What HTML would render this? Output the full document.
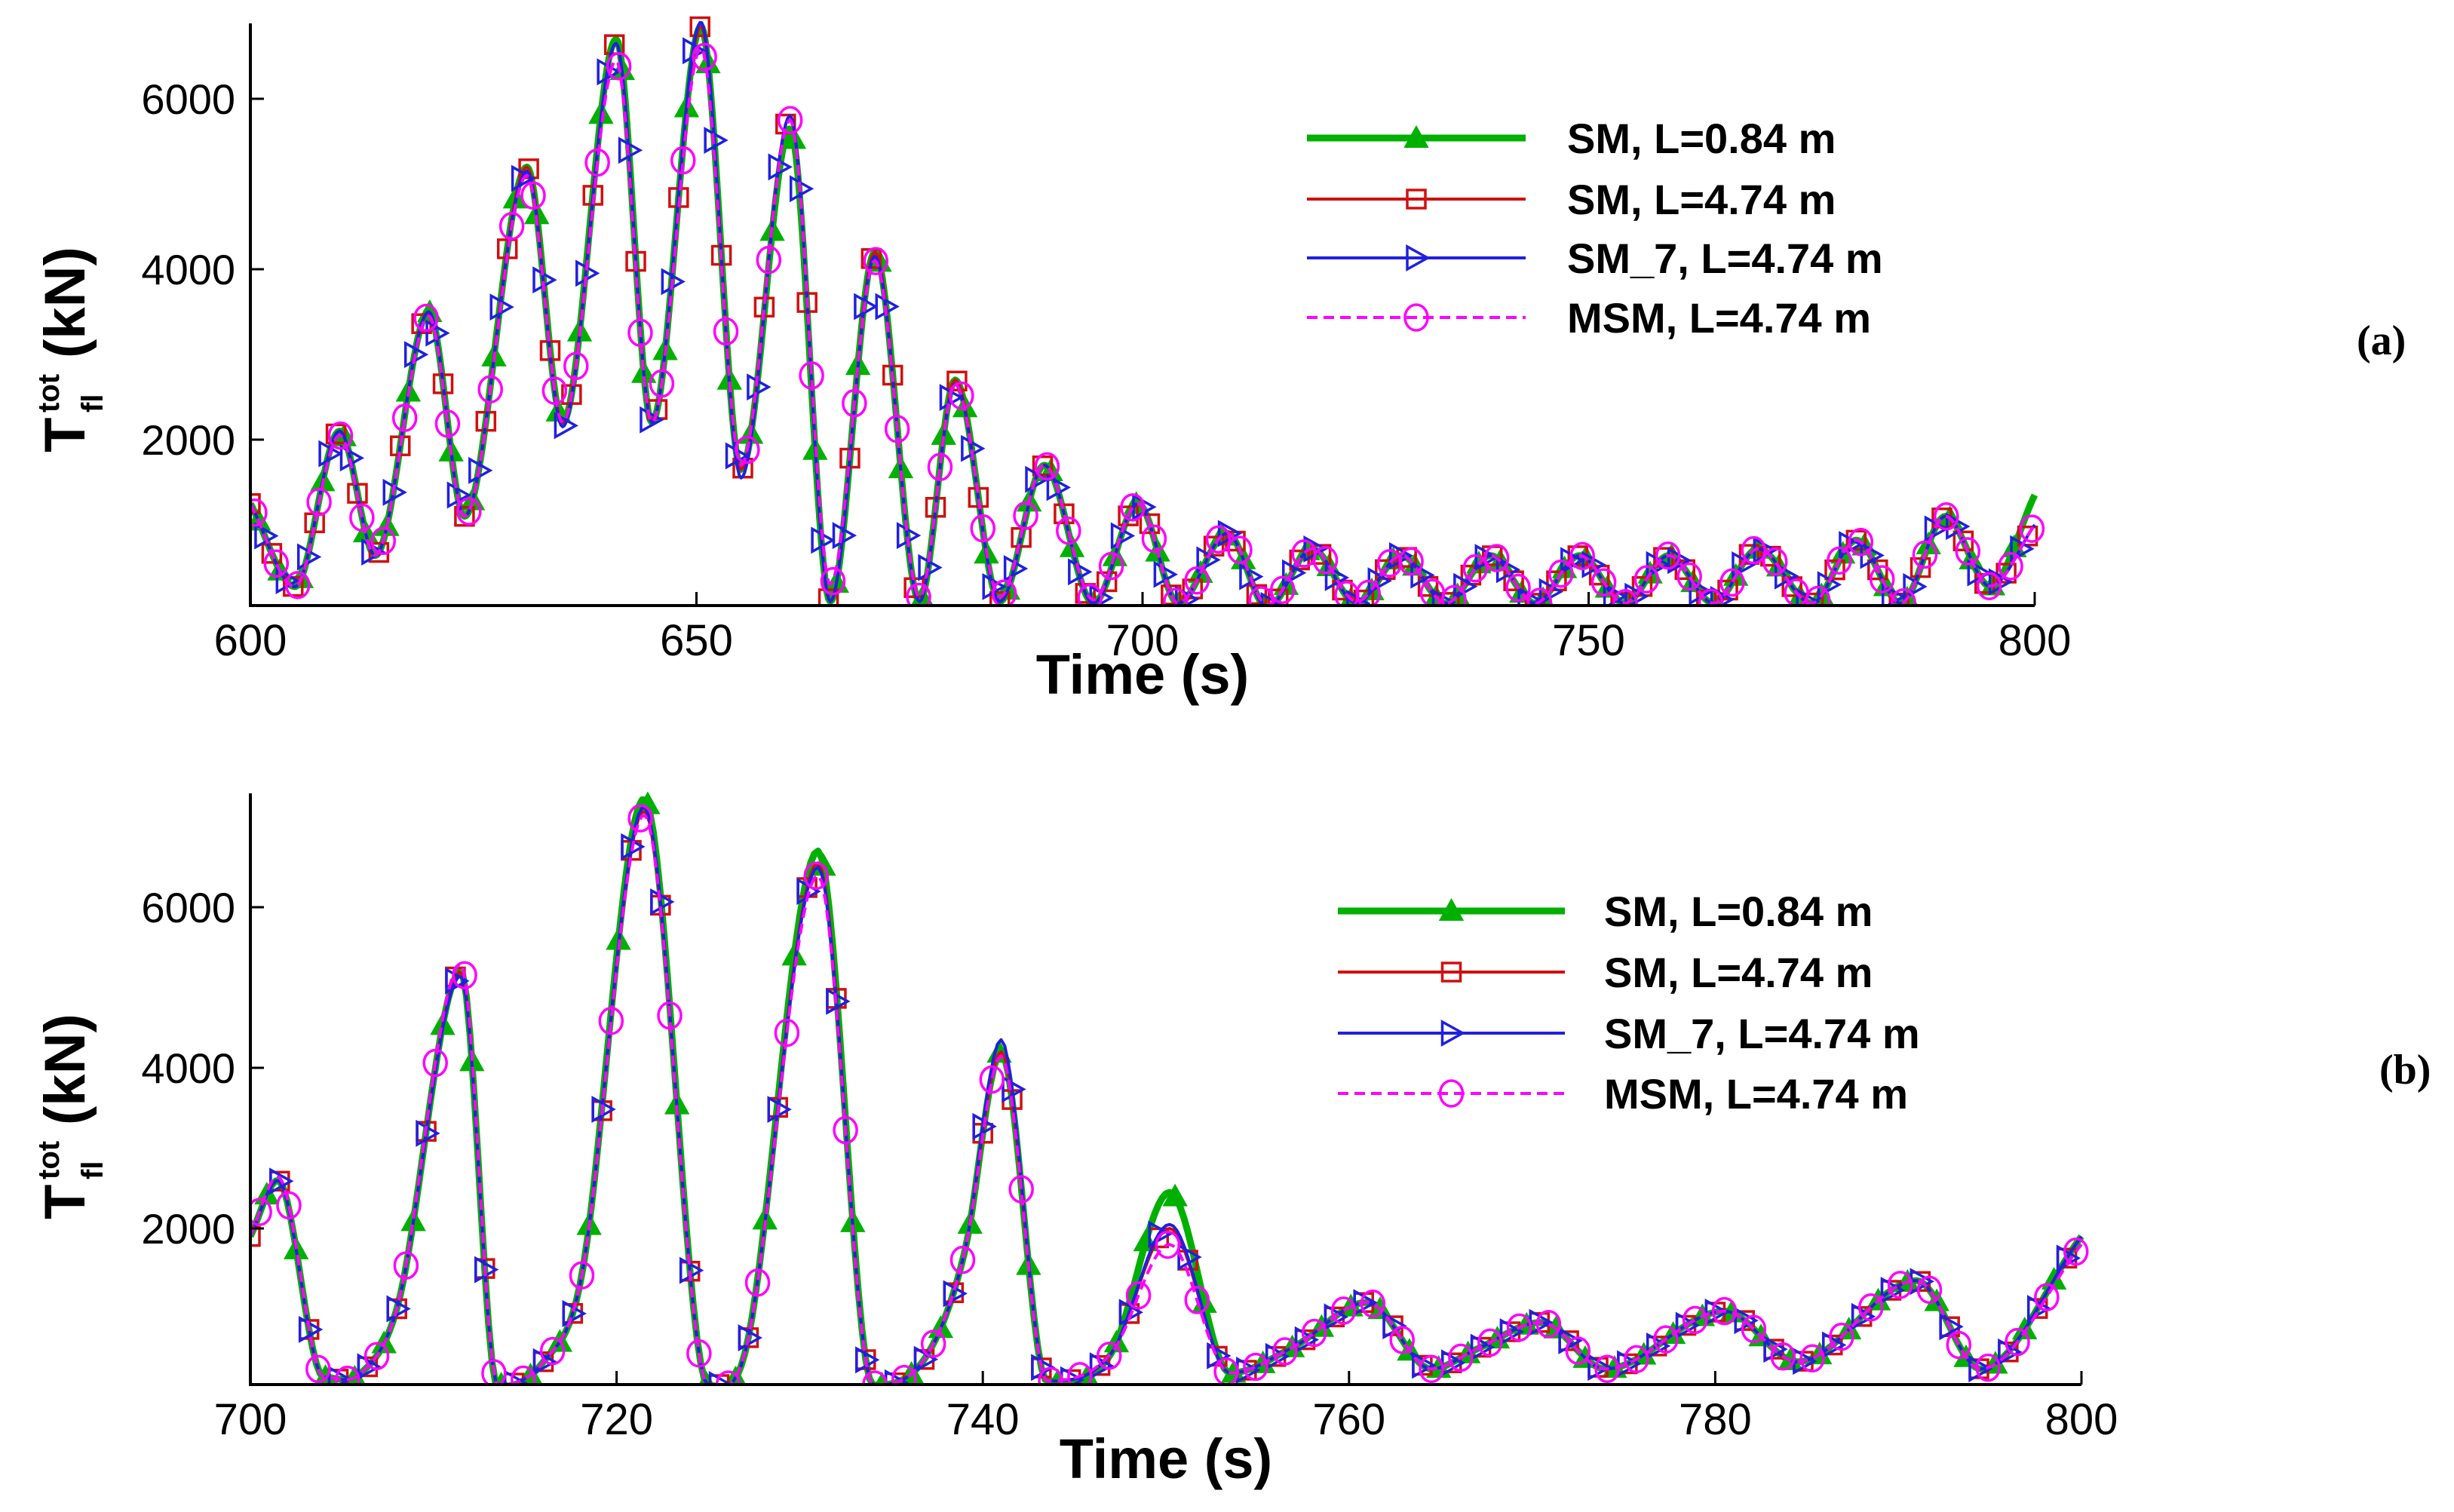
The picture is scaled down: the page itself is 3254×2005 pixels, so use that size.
<!DOCTYPE html>
<html><head><meta charset="utf-8">
<style>
html,body{margin:0;padding:0;background:#fff;}
svg{display:block;font-family:"Liberation Sans",sans-serif;}
</style></head>
<body>
<svg id="fig" width="3254" height="2005" viewBox="0 0 3254 2005"></svg>
<script>
// Panel (a) data
const aTimes=[600,605,610,614,620,624,631,635,641,645,650.5,655,660.5,665,670,675,679,684,689,694.5,699.5,704,709.5,714,719,724,729,734,739,744,749,754,759,764,769,775,780,785,790,795,800];
const aSM084=[1250,275,2100,640,3500,1100,5200,2200,6700,2200,6850,1650,5650,100,4200,100,2700,100,1700,80,1250,80,900,30,720,80,640,80,640,80,640,80,640,80,720,80,820,80,1100,280,1350];
const aSM474=[1250,275,2100,640,3500,1100,5200,2200,6650,2200,6850,1650,5800,100,4200,100,2700,100,1700,80,1250,80,900,30,720,80,640,80,640,80,640,80,640,80,720,80,820,80,1100,280,1000];
const aSM7=[1250,275,2100,640,3500,1100,5150,2150,6650,2200,6900,1550,5800,100,4150,100,2650,100,1700,80,1250,80,900,30,720,80,640,80,640,80,640,80,640,80,720,80,820,80,1100,280,1000];
const aMSM=[1250,275,2050,640,3450,1100,5100,2200,6450,2200,6600,1700,5750,300,4100,150,2650,150,1700,120,1250,80,900,60,720,100,640,80,640,80,640,80,640,80,720,80,820,80,1100,280,1000];
const aXTicks=[600,650,700,750,800];
const aYTicks=[2000,4000,6000];
// Panel (b) data
const bTimes=[700,701.5,704,706,708,711.5,713.5,716,718,721.5,725,727,731,734,737,739,741,743.5,747,750.2,753.5,757,761,764.5,767,770.5,774,780.5,784.5,791,794.5,800];
const bSM084=[1900,2600,150,190,1000,5200,20,340,1300,7350,50,440,6700,50,440,1700,4200,100,440,2450,200,530,1080,250,500,830,250,970,340,1350,250,1900];
const bSM474=[1900,2600,150,190,1000,5200,50,340,1300,7200,50,440,6550,50,440,1700,4200,100,440,2000,200,530,1080,250,500,830,250,970,340,1350,250,1900];
const bSM7=[1900,2600,150,190,1000,5150,50,340,1300,7250,50,440,6500,50,440,1700,4350,100,440,2050,200,530,1080,250,500,830,250,970,340,1350,250,1900];
const bMSM=[1900,2650,150,190,1000,5300,50,340,1300,7150,50,440,6400,50,440,1700,4150,100,440,1800,200,530,1080,250,500,830,250,970,340,1350,250,1800];
const bXTicks=[700,720,740,760,780,800];
const bYTicks=[2000,4000,6000];
const seriesNames=["SM, L=0.84 m","SM, L=4.74 m","SM_7, L=4.74 m","MSM, L=4.74 m"];

const NS="http://www.w3.org/2000/svg";
const svg=document.getElementById('fig');
function mk(tag,attrs,parent){const e=document.createElementNS(NS,tag);for(const k in attrs)e.setAttribute(k,attrs[k]);(parent||svg).appendChild(e);return e;}

function interp(ts,vs,t){
  let i=0;while(i<ts.length-2&&t>ts[i+1])i++;
  const t0=ts[i],t1=ts[i+1],v0=vs[i],v1=vs[i+1];
  const m=(k)=>{if(k===0)return (vs[1]-vs[0])/(ts[1]-ts[0]);if(k===ts.length-1)return (vs[k]-vs[k-1])/(ts[k]-ts[k-1]);
    const d1=(vs[k]-vs[k-1])/(ts[k]-ts[k-1]),d2=(vs[k+1]-vs[k])/(ts[k+1]-ts[k]);if(d1*d2<=0)return 0;return (d1+d2)/2;};
  const h=t1-t0,s=(t-t0)/h,m0=m(i)*h,m1=m(i+1)*h;
  const s2=s*s,s3=s2*s;
  return (2*s3-3*s2+1)*v0+(s3-2*s2+s)*m0+(-2*s3+3*s2)*v1+(s3-s2)*m1;
}

function marker(g,type,x,y,color){
  const r=15;let e;
  if(type==='tri'){e=mk('polygon',{points:`${x},${y-r} ${x-r},${y+r*0.8} ${x+r},${y+r*0.8}`,fill:color,stroke:color,'stroke-width':2},g);}
  else if(type==='sq'){e=mk('rect',{x:x-12,y:y-12,width:24,height:24,fill:'none',stroke:color,'stroke-width':3.5},g);}
  else if(type==='rtri'){e=mk('polygon',{points:`${x-12},${y-r} ${x+r},${y} ${x-12},${y+r}`,fill:'none',stroke:color,'stroke-width':3.5},g);}
  else {e=mk('ellipse',{cx:x,cy:y,rx:15,ry:17,fill:'none',stroke:color,'stroke-width':3.5},g);}
  
  
}

function panel(cfg){
  const {x0,x1,yTop,yBot,tmin,tmax,vmin,vmax,times,series,xTicks,yTicks,legX,legY,legTextX,tag,tagPos,xtitle,ytitleY,step,id}=cfg;
  const X=t=>x0+(t-tmin)/(tmax-tmin)*(x1-x0);
  const Y=v=>yBot-(v-vmin)/(vmax-vmin)*(yBot-yTop);
  const g=mk('g',{});
  
  
  const cid='clip'+id;
  const cp=mk('clipPath',{id:cid},g);mk('rect',{x:x0,y:yTop-20,width:x1-x0+20,height:yBot-yTop+22},cp);
  const styles=[
    {c:'#00b000',w:9,dash:null,m:'tri',off:0.9},
    {c:'#d01010',w:4,dash:null,m:'sq',off:0},
    {c:'#2020e0',w:4,dash:null,m:'rtri',off:1.6},
    {c:'#ff00ff',w:4,dash:'14,8',m:'circ',off:0.5}];
  series.forEach((vs,si)=>{
    const st=styles[si];
    const sg=mk('g',{'clip-path':`url(#${cid})`},g);
    
    
    let d='';
    for(let t=tmin;t<=tmax+1e-9;t+=0.2){const v=Math.max(vmin-50,interp(times,vs,t));d+=(d?'L':'M')+X(t).toFixed(1)+','+Y(v).toFixed(1);}
    const p=mk('path',{d,fill:'none',stroke:st.c,'stroke-width':st.w,'stroke-linejoin':'round'},sg);
    if(st.dash)p.setAttribute('stroke-dasharray',st.dash);
    
    
    for(let t=tmin+st.off;t<=tmax;t+=step){const v=Math.max(vmin,interp(times,vs,t));marker(sg,st.m,X(t),Y(v),st.c);}
  });
  const ax=mk('path',{d:`M${x0},${yTop} L${x0},${yBot} L${x1},${yBot}`,fill:'none',stroke:'#000','stroke-width':4},g);
  
  
  xTicks.forEach(t=>{
    mk('line',{x1:X(t),x2:X(t),y1:yBot,y2:yBot-18,stroke:'#000','stroke-width':3},g);
    const tx=mk('text',{x:X(t),y:yBot+66,'font-size':58,'text-anchor':'middle',fill:'#000'},g);tx.textContent=t;
    
    
  });
  yTicks.forEach(v=>{
    mk('line',{x1:x0,x2:x0+18,y1:Y(v),y2:Y(v),stroke:'#000','stroke-width':3},g);
    const tx=mk('text',{x:x0-20,y:Y(v)+20,'font-size':56,'text-anchor':'end',fill:'#000'},g);tx.textContent=v;
    
    
  });
  const xt=mk('text',{x:xtitle[0],y:xtitle[1],'font-size':74,'font-weight':'bold','text-anchor':'middle',fill:'#000'},g);xt.textContent='Time (s)';
  
  
  const yg=mk('g',{transform:`translate(112,${ytitleY}) rotate(-90)`},g);
  
  
  const t1=mk('text',{x:-185,y:0,'font-size':76,'font-weight':'bold',fill:'#000'},yg);t1.textContent='T';
  const t2=mk('text',{x:-132,y:-34,'font-size':40,'font-weight':'bold',fill:'#000'},yg);t2.textContent='tot';
  const t3=mk('text',{x:-132,y:24,'font-size':40,'font-weight':'bold',fill:'#000'},yg);t3.textContent='fl';
  const t4=mk('text',{x:-60,y:0,'font-size':76,'font-weight':'bold',fill:'#000'},yg);t4.textContent='(kN)';
  styles.forEach((st,i)=>{
    const y=legY[i];
    const lg=mk('g',{},g);
    
    
    const l=mk('line',{x1:legX[0],x2:legX[1],y1:y,y2:y,stroke:st.c,'stroke-width':st.w},lg);
    if(st.dash)l.setAttribute('stroke-dasharray',st.dash);
    marker(lg,st.m,(legX[0]+legX[1])/2,y,st.c);
    const t=mk('text',{x:legTextX,y:y+20,'font-size':56,'font-weight':'bold',fill:'#000'},lg);t.textContent=seriesNames[i];
  });
  const tg=mk('text',{x:tagPos[0],y:tagPos[1],'font-size':56,'font-weight':'bold','font-family':'Liberation Serif, serif',fill:'#000'},g);tg.textContent=tag;
  
  
}

panel({id:'a',x0:332,x1:2698,yTop:31,yBot:803,tmin:600,tmax:800,vmin:53,vmax:6885,times:aTimes,series:[aSM084,aSM474,aSM7,aMSM],
  xTicks:aXTicks,yTicks:aYTicks,legX:[1733,2023],legY:[183,264,342,421],legTextX:2078,tag:'(a)',tagPos:[3125,470],xtitle:[1515,920],ytitleY:415,step:2.4});
panel({id:'b',x0:332,x1:2760,yTop:1052,yBot:1836,tmin:700,tmax:800,vmin:56,vmax:7418,times:bTimes,series:[bSM084,bSM474,bSM7,bMSM],
  xTicks:bXTicks,yTicks:bYTicks,legX:[1774,2075],legY:[1208,1289,1370,1450],legTextX:2127,tag:'(b)',tagPos:[3155,1437],xtitle:[1546,1960],ytitleY:1432,step:1.6});
</script>
</body></html>
